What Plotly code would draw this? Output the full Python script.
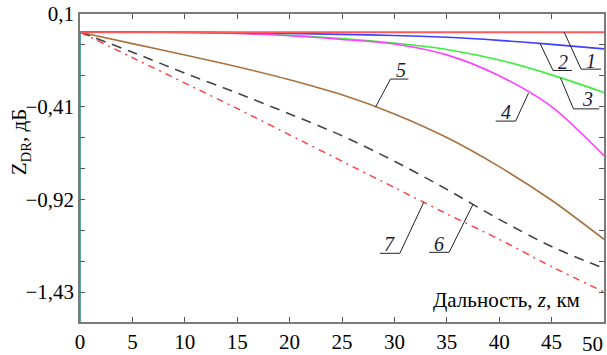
import numpy as np
import plotly.graph_objects as go

# ---------------- data ----------------
z_km = [0, 5, 10, 15, 20, 25, 30, 35, 40, 45, 50]
zdr_1 = [0, 0, 0, 0, 0, 0, 0, 0, 0, 0, 0]
zdr_2 = [0, 0, 0, -0.003, -0.007, -0.012, -0.018, -0.028, -0.045, -0.067, -0.092]
zdr_3 = [0, 0, -0.002, -0.006, -0.017, -0.035, -0.06, -0.095, -0.153, -0.235, -0.332]
zdr_4 = [0, 0, -0.002, -0.007, -0.02, -0.04, -0.065, -0.125, -0.24, -0.41, -0.68]
zdr_5 = [0, -0.063, -0.126, -0.19, -0.262, -0.345, -0.45, -0.58, -0.74, -0.925, -1.14]
zdr_6 = [0, -0.11, -0.225, -0.335, -0.45, -0.57, -0.71, -0.865, -1.03, -1.18, -1.30]
zdr_7 = [0, -0.14, -0.28, -0.42, -0.565, -0.71, -0.855, -1.0, -1.14, -1.29, -1.43]

x_tickvals = [0, 5, 10, 15, 20, 25, 30, 35, 40, 45]
x_ticktext = ["0", "5", "10", "15", "20", "25", "30", "35", "40", "45"]
x_last_label = "50"
y_tickvals = [0.1, -0.41, -0.92, -1.43]
y_ticktext = ["0,1", "\u22120,41", "\u22120,92", "\u22121,43"]
y_minor_vals = [-0.07, -0.24, -0.58, -0.75, -1.09, -1.26]

curve_labels = ["1", "2", "3", "4", "5", "6", "7"]
label_z = [46.2, 43.9, 45.85, 42.8, 28.2, 37.5, 32.8]

# ---------------- style ----------------
X_RANGE = [0, 50]
Y_RANGE = [-1.595, 0.1]
ML, MR, MT, MB = 80, 1, 14, 33
W, H = 607, 355
PW, PH = W - ML - MR, H - MT - MB
px_x = PW / (X_RANGE[1] - X_RANGE[0])
px_y = PH / (Y_RANGE[1] - Y_RANGE[0])

FONT = "Liberation Serif, Times New Roman, serif"
FS = 21

series = [
    (zdr_5, "#a8713e", "solid", 1.6),
    (zdr_6, "#444444", "10px,7px", 1.6),
    (zdr_7, "#ff3b3b", "7px,5px,2px,5px", 1.4),
    (zdr_3, "#3ded3d", "solid", 1.6),
    (zdr_4, "#ff40ff", "solid", 1.6),
    (zdr_2, "#3f3fff", "solid", 1.6),
    (zdr_1, "#ff5a5a", "solid", 2.0),
]
series_by_label = [zdr_1, zdr_2, zdr_3, zdr_4, zdr_5, zdr_6, zdr_7]

# leader geometry, pixels: (dx1, dy1 down), horizontal dx2, text (dx, dy down)
leader_px = [
    (17, 37, 20, 27, 29),
    (13, 27, 19, 23, 19),
    (13, 31, 26, 27, 21),
    (-13, 28, -20, -23, 19),
    (15, -28, 18, 25, -37),
    (-24, 48, -20, -34, 40),
    (-24, 51, -20, -34, 42),
]

fig = go.Figure()
for ys, col, dash, w in series:
    fig.add_trace(go.Scatter(
        x=z_km, y=ys, mode="lines",
        line=dict(color=col, dash=dash, width=w, shape="spline", smoothing=0.8),
        showlegend=False, hoverinfo="skip"))

shapes = []
annotations = []
# teal overlay on left axis (below start point)
shapes.append(dict(type="line", xref="x", yref="y", x0=0, x1=0,
                   y0=zdr_1[0], y1=Y_RANGE[0],
                   line=dict(color="#2f8f86", width=1.6)))

for name, zl, ser, (dx1, dy1, dx2, tdx, tdy) in zip(curve_labels, label_z, series_by_label, leader_px):
    v = float(np.interp(zl, z_km, ser))
    x1 = zl + dx1 / px_x
    y1 = v - dy1 / px_y
    x2 = x1 + dx2 / px_x
    shapes.append(dict(type="path", xref="x", yref="y",
                       path=f"M{zl},{v} L{x1},{y1} L{x2},{y1}",
                       line=dict(color="#222222", width=1)))
    annotations.append(dict(x=zl, y=v, xref="x", yref="y", text=f"<i>{name}</i>",
                            showarrow=False, xshift=tdx, yshift=-tdy,
                            xanchor="center", yanchor="middle",
                            font=dict(family=FONT, size=20, color="#1a1a3a")))

# x axis title inside the plot
annotations.append(dict(x=(508 - ML) / PW, y=(H - MB - 300) / PH, xref="paper", yref="paper",
                        xanchor="center", yanchor="middle",
                        text="Дальность, <i>z</i>, км", showarrow=False,
                        font=dict(family=FONT, size=FS, color="black")))
# y axis title
annotations.append(dict(x=(20 - ML) / PW, y=(H - MB - 142) / PH, xref="paper", yref="paper",
                        xanchor="center", yanchor="middle",
                        text="Z<sub>DR</sub>, дБ", textangle=-90, showarrow=False,
                        font=dict(family=FONT, size=FS, color="black")))
# last x tick label, shifted inside the window
annotations.append(dict(x=X_RANGE[1], y=0, xref="x", yref="paper", text=x_last_label,
                        showarrow=False, xanchor="right", yanchor="top", xshift=1, yshift=-8,
                        font=dict(family=FONT, size=FS, color="black")))

axis_common = dict(showgrid=False, zeroline=False, showline=True, linecolor="#7a7a7a",
                   linewidth=1.5, mirror="ticks", ticks="inside", ticklen=5,
                   tickcolor="#555555", tickwidth=1,
                   tickfont=dict(family=FONT, size=FS, color="black"))

fig.update_layout(
    width=W, height=H,
    margin=dict(l=ML, r=MR, t=MT, b=MB, pad=0),
    paper_bgcolor="white", plot_bgcolor="white",
    separators=",.",
    xaxis=dict(range=X_RANGE, tickmode="array", tickvals=x_tickvals, ticktext=x_ticktext,
               **axis_common),
    yaxis=dict(range=Y_RANGE, tickmode="array", tickvals=y_tickvals, ticktext=y_ticktext,
               minor=dict(tickmode="array", tickvals=y_minor_vals, ticks="inside",
                          ticklen=5, tickcolor="#555555", tickwidth=1, showgrid=False),
               **axis_common),
    shapes=shapes, annotations=annotations,
)

fig.write_html("out.html", config={"displayModeBar": False},
               post_script="document.body.style.margin='0';document.body.style.overflow='hidden';")
